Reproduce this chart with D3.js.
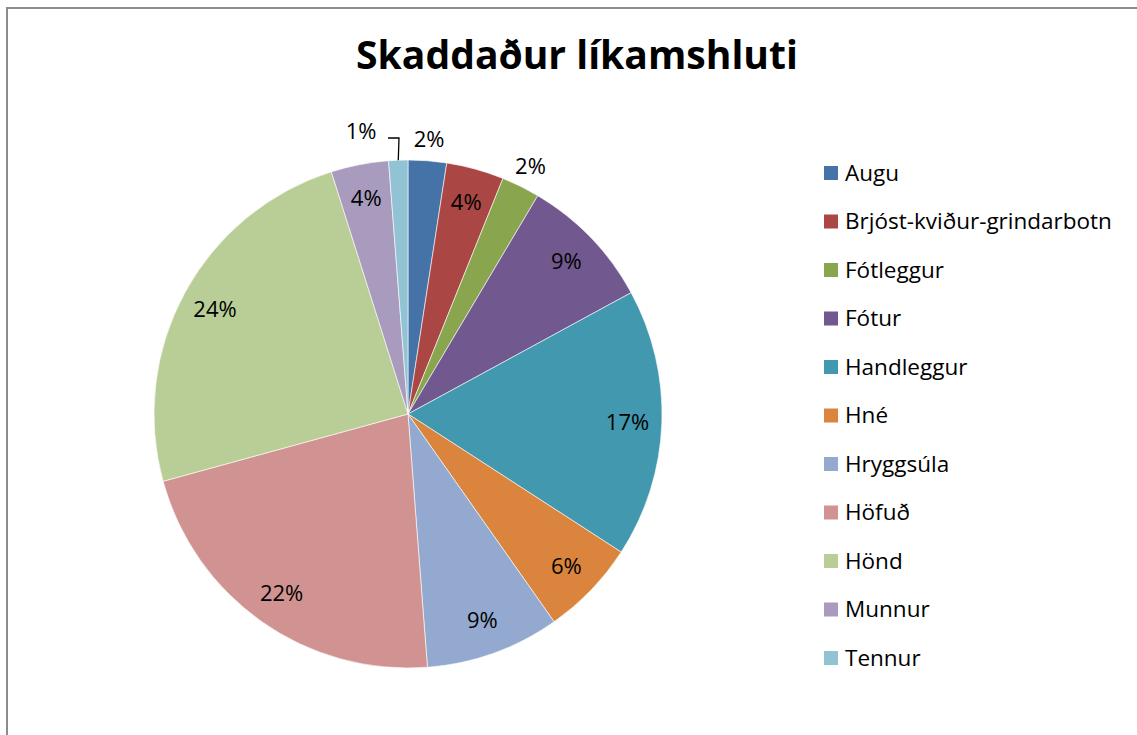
<!DOCTYPE html>
<html>
<head>
<meta charset="utf-8">
<script src="https://cdn.jsdelivr.net/npm/d3@7"></script>
<style>
  html, body { margin: 0; padding: 0; background: #fff; }
  svg { display: block; font-family: "Open Sans", Lato, sans-serif; }
</style>
</head>
<body>
<svg id="chart" width="1137" height="735"></svg>
<script>
// Counts per injured body part (labels show share of total, 82 cases)
var categories = ['Augu', 'Brjóst-kviður-grindarbotn', 'Fótleggur', 'Fótur', 'Handleggur',
  'Hné', 'Hryggsúla', 'Höfuð', 'Hönd', 'Munnur', 'Tennur'];
var counts = [2, 3, 2, 7, 14, 5, 7, 18, 20, 3, 1];
var colors = ['#4572A7', '#AA4643', '#89A54E', '#71588F', '#4198AF', '#DB843D',
  '#93A9CF', '#D19392', '#B9CD96', '#A99BBD', '#92C3D5'];
var title = 'Skaddaður líkamshluti';

var svg = d3.select('#chart');
var W = 1137, H = 735;

// chart frame (only left and top edges visible in the crop)
svg.append('path')
  .attr('d', 'M7,' + H + 'V8H' + W)
  .attr('fill', 'none')
  .attr('stroke', '#8c8c8c')
  .attr('stroke-width', 2);

// title, sized to span the same width as the original
var t = svg.append('text')
  .attr('x', 577).attr('y', 69)
  .attr('text-anchor', 'middle')
  .attr('font-size', 40)
  .attr('font-weight', 'bold')
  .attr('fill', '#000')
  .text(title);
var tw = t.node().getComputedTextLength();
t.attr('font-size', 40 * 442 / tw);

var cx = 408, cy = 414, r = 254;
var total = d3.sum(counts);
var data = categories.map(function (c, i) { return {name: c, value: counts[i], color: colors[i]}; });

var pie = d3.pie().value(function (d) { return d.value; }).sort(null);
var arcs = pie(data);
var arc = d3.arc().innerRadius(0).outerRadius(r);

var g = svg.append('g').attr('transform', 'translate(' + cx + ',' + cy + ')');
g.selectAll('path.slice')
  .data(arcs)
  .enter().append('path')
  .attr('class', 'slice')
  .attr('d', arc)
  .attr('fill', function (d) { return d.data.color; })
  .attr('stroke', '#fff')
  .attr('stroke-width', 0.6);

var fmt = function (v) { return Math.round(v / total * 100) + '%'; };

// label placement: wide slices inside, thin ones just outside the rim
arcs.forEach(function (d, i) {
  var share = d.data.value / total;
  var mid = (d.startAngle + d.endAngle) / 2;
  var rad = share < 0.03 ? r + 22 : r * 0.865;
  var lx = Math.sin(mid) * rad, ly = -Math.cos(mid) * rad;
  if (share < 0.015) {
    // tiny last slice: label pushed left with a leader line
    var tip = [Math.sin(mid) * r, -Math.cos(mid) * r];
    lx = -47; ly = -283;
    g.append('polyline')
      .attr('points', [[lx + 27, ly + 7], [lx + 38, ly + 7], [tip[0], tip[1]]].map(function (p) { return p.join(','); }).join(' '))
      .attr('fill', 'none')
      .attr('stroke', '#000')
      .attr('stroke-width', 1.3);
  }
  g.append('text')
    .attr('x', lx).attr('y', ly)
    .attr('dy', '0.35em')
    .attr('text-anchor', 'middle')
    .attr('font-size', 22)
    .attr('fill', '#000')
    .text(fmt(d.data.value));
});

// legend
var legend = svg.append('g').attr('transform', 'translate(824,173)');
var item = legend.selectAll('g.item')
  .data(data)
  .enter().append('g')
  .attr('class', 'item')
  .attr('transform', function (d, i) { return 'translate(0,' + (i * 48.5) + ')'; });
item.append('rect')
  .attr('x', 0).attr('y', -7)
  .attr('width', 14).attr('height', 14)
  .attr('fill', function (d) { return d.color; });
item.append('text')
  .attr('x', 21).attr('y', 0)
  .attr('dy', '0.35em')
  .attr('font-size', 22.5)
  .attr('fill', '#000')
  .text(function (d) { return d.name; });
</script>
</body>
</html>
